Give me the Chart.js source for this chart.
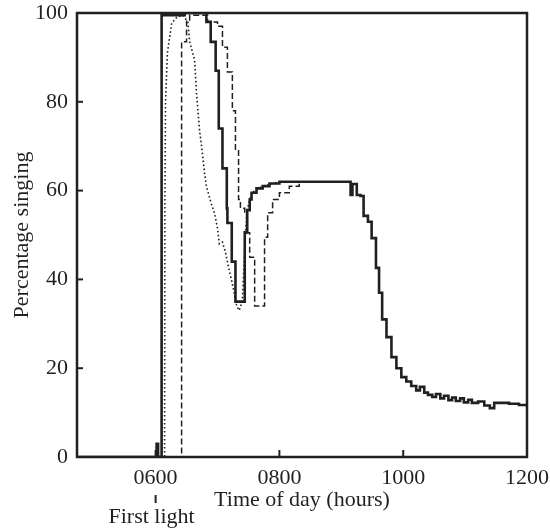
<!DOCTYPE html>
<html>
<head>
<meta charset="utf-8">
<script src="https://cdn.jsdelivr.net/npm/chart.js@4.4.1/dist/chart.umd.min.js"></script>
<style>
  html, body { margin: 0; padding: 0; background: #fff; }
  canvas { display: block; }
</style>
</head>
<body>
<canvas id="monGraphique" width="550" height="528"></canvas>
<script>
// heures (6.0 = 0600) et pourcentages
const solidX = [4.73, 6.016, 6.04, 6.097, 6.47, 6.82, 6.89, 6.97, 7.02, 7.08, 7.15, 7.16, 7.23, 7.29, 7.44, 7.48, 7.52, 7.55, 7.63, 7.73, 7.84, 8.0,
  9.15, 9.18, 9.25, 9.31, 9.36, 9.43, 9.49, 9.56, 9.61, 9.66, 9.73, 9.81, 9.89, 9.97, 10.05, 10.13, 10.21, 10.27, 10.34, 10.40, 10.47, 10.53,
  10.60, 10.66, 10.73, 10.79, 10.85, 10.92, 10.98, 11.05, 11.11, 11.21, 11.31, 11.40, 11.47, 11.71, 11.87, 12.0];
const solidY = [0, 3, 0, 99.5, 100, 98, 93.5, 87, 74, 65, 56, 52.7, 44, 35, 50.6, 55.6, 58, 59.5, 60.5, 61, 61.6, 62,
  59, 61.5, 59, 58.8, 54.3, 53, 49.3, 42.6, 37, 31, 27, 22.5, 20, 18, 17, 16, 15, 15.8, 14.5, 14, 13.5, 14.2,
  13.2, 13.8, 12.8, 13.4, 12.6, 13.2, 12.3, 12.9, 12.2, 12.5, 11.6, 11.0, 12.2, 12.0, 11.7, 11.3];

const dottedX = [4.73, 6.145, 6.15, 6.16, 6.19, 6.26, 6.34, 6.44, 6.52, 6.55, 6.63, 6.66, 6.71, 6.76, 6.79, 6.82, 6.90, 6.95, 7.0, 7.03,
  7.08, 7.13, 7.19, 7.24, 7.31, 7.35, 7.40, 7.45, 7.48, 7.55, 7.73, 8.0, 8.5];
const dottedY = [0, 0, 57, 80, 91, 97.7, 99, 99.5, 98, 93.5, 89.4, 82, 73.6, 68, 64, 61, 57, 55, 51.5, 48,
  48.4, 46, 42, 39, 34, 33, 35, 50, 55.6, 59.5, 61, 62, 62];

const dashedX = [4.73, 6.42, 6.50, 6.55, 6.84, 7.0, 7.08, 7.16, 7.24, 7.29, 7.34, 7.37, 7.44, 7.47, 7.52, 7.60, 7.76, 7.81, 7.89, 8.0, 8.16, 8.32, 8.6];
const dashedY = [0, 93.5, 98.4, 99.5, 98, 97, 92.3, 86.7, 78, 69, 58, 56, 55, 50.5, 45, 34, 49.5, 55, 58, 59.5, 61, 62, 62];

const tickHours = [6, 8, 10, 12];
const tickLabels = ['0600', '0800', '1000', '1200'];
const yTicks = [20, 40, 60, 80];
const firstLight = 6;

const police = '"Liberation Serif", "Times New Roman", serif';
const encre = '#231f20';

const pts = (xs, ys) => xs.map((x, i) => ({ x: x, y: ys[i] }));

const cadre = {
  id: 'cadre',
  afterDatasetsDraw(chart) {
    const { ctx, chartArea: a, scales: { x, y } } = chart;
    const trait = (x1, y1, x2, y2) => { ctx.beginPath(); ctx.moveTo(x1, y1); ctx.lineTo(x2, y2); ctx.stroke(); };
    ctx.save();
    ctx.strokeStyle = encre;
    ctx.lineWidth = 2.5;
    ctx.strokeRect(a.left, a.top, a.right - a.left, a.bottom - a.top);
    ctx.lineWidth = 2;
    yTicks.forEach(v => { const py = y.getPixelForValue(v); trait(a.left, py, a.left + 6, py); });
    tickHours.forEach(h => { const px = x.getPixelForValue(h); trait(px, a.bottom, px, a.bottom - 7); });
    // premiere lumiere
    const fx = x.getPixelForValue(firstLight);
    trait(fx, a.bottom + 38, fx, a.bottom + 46);
    ctx.fillStyle = encre;
    ctx.font = '22px ' + police;
    ctx.textAlign = 'center';
    ctx.textBaseline = 'middle';
    ctx.fillText('First light', fx - 4, a.bottom + 60);
    ctx.restore();
  }
};

const ctx = document.getElementById('monGraphique').getContext('2d');

new Chart(ctx, {
  type: 'line',
  data: {
    datasets: [
      {
        label: 'solid',
        data: pts(solidX, solidY),
        borderColor: encre,
        borderWidth: 2.6,
        stepped: 'before',
        pointRadius: 0,
        fill: false,
        order: 0
      },
      {
        label: 'dashed',
        data: pts(dashedX, dashedY),
        borderColor: encre,
        borderWidth: 1.5,
        borderDash: [6, 3],
        stepped: 'before',
        pointRadius: 0,
        fill: false,
        order: 1
      },
      {
        label: 'dotted',
        data: pts(dottedX, dottedY),
        borderColor: encre,
        borderWidth: 1.6,
        borderDash: [1.6, 2.4],
        pointRadius: 0,
        fill: false,
        order: 2
      }
    ]
  },
  options: {
    responsive: false,
    animation: false,
    devicePixelRatio: 1,
    layout: { padding: { left: 0, right: 23, top: 13, bottom: 0 } },
    plugins: { legend: { display: false }, tooltip: { enabled: false } },
    scales: {
      x: {
        type: 'linear',
        min: 4.73,
        max: 12,
        grid: { display: false },
        border: { display: false },
        afterBuildTicks: scale => { scale.ticks = tickHours.map(v => ({ value: v })); },
        afterFit: scale => { scale.height = 71; scale.paddingLeft = 0; scale.paddingRight = 0; },
        ticks: {
          autoSkip: false,
          maxRotation: 0,
          padding: 0,
          color: encre,
          font: { family: police, size: 22 },
          callback: v => tickLabels[tickHours.indexOf(v)]
        },
        title: {
          display: true,
          text: 'Time of day (hours)',
          color: encre,
          font: { family: police, size: 22 },
          padding: { top: 0, bottom: 15 }
        }
      },
      y: {
        min: 0,
        max: 100,
        grid: { display: false },
        border: { display: false },
        afterFit: scale => { scale.width = 77; scale.paddingTop = 0; scale.paddingBottom = 0; },
        ticks: {
          stepSize: 20,
          padding: 1,
          color: encre,
          font: { family: police, size: 22 }
        },
        title: {
          display: true,
          text: 'Percentage singing',
          color: encre,
          font: { family: police, size: 22 },
          padding: { top: 9, bottom: 0 }
        }
      }
    }
  },
  plugins: [cadre]
});
</script>
</body>
</html>
